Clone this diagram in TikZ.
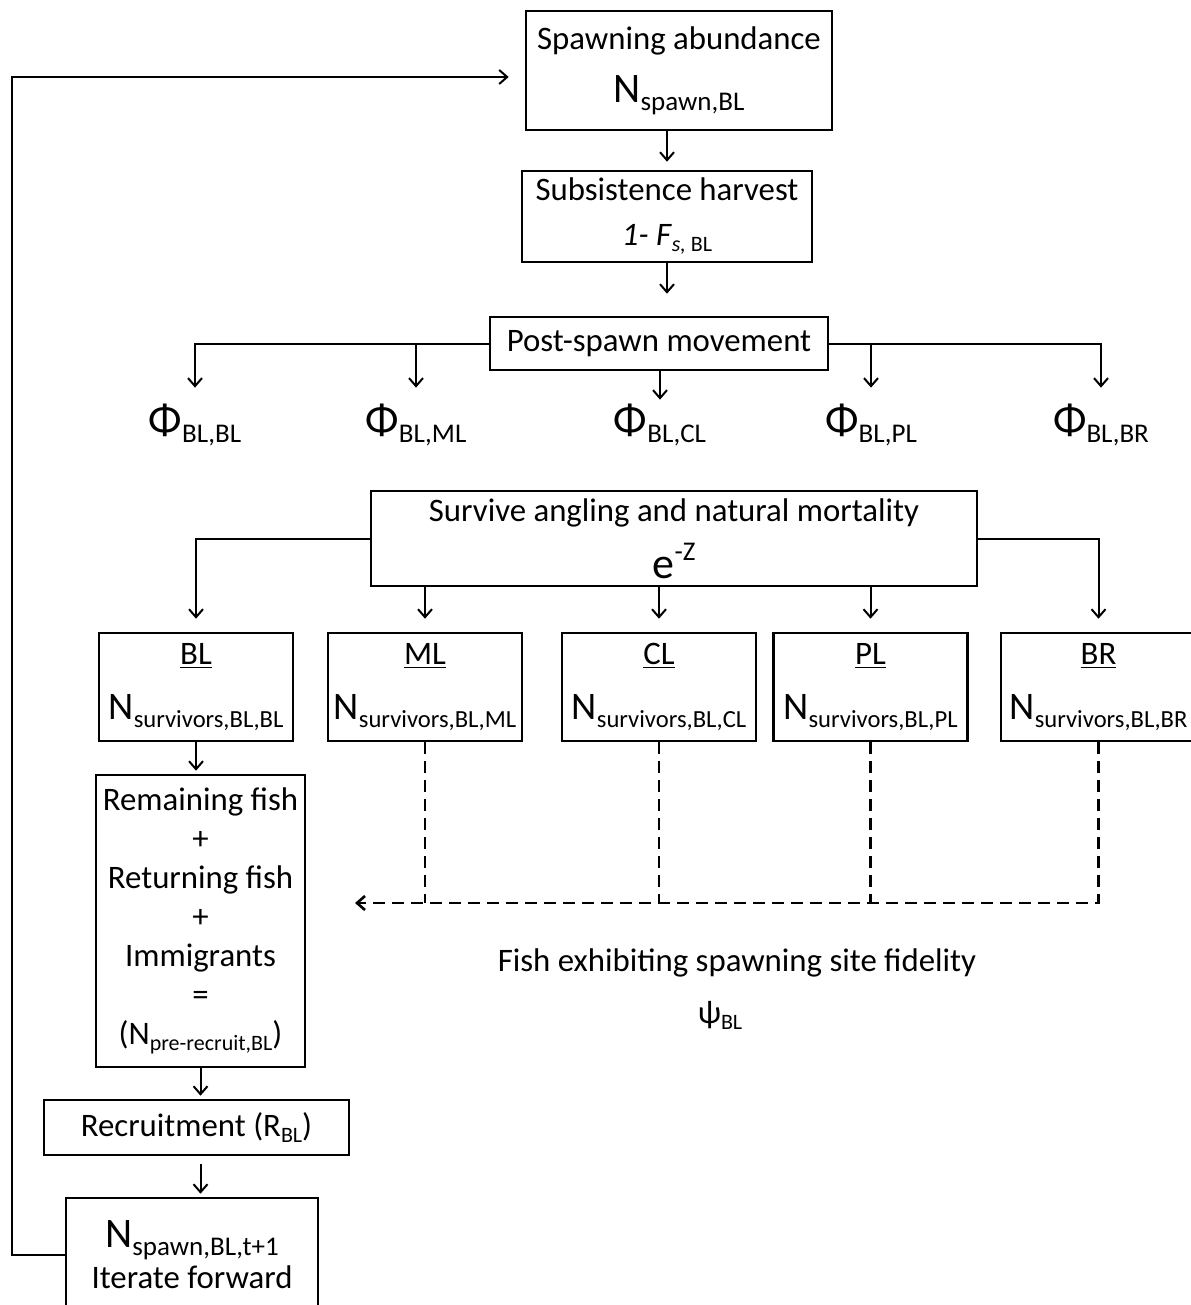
\documentclass[tikz,border=0pt]{standalone}
\usepackage{fontspec}
\setmainfont{Carlito}
\usetikzlibrary{arrows.meta}
\newcommand{\bigN}[1]{{\fontsize{21}{24}\selectfont N}\raisebox{-4pt}{\fontsize{13.5}{15}\selectfont #1}}
\newcommand{\siteN}[1]{{\fontsize{19.5}{22}\selectfont N}\raisebox{-4pt}{\fontsize{12.3}{14}\selectfont #1}}
\newcommand{\phisub}[1]{{\fontsize{22}{24}\selectfont Φ}\raisebox{-4pt}{\fontsize{13.5}{15}\selectfont #1}}
\newcommand{\lowsub}[1]{\raisebox{-3pt}{\fontsize{11}{12}\selectfont #1}}

\begin{document}
\begin{tikzpicture}[x=0.5pt,y=-0.5pt,
  box/.style={draw,line width=1.3pt,align=center,inner sep=0pt,font=\fontsize{16.4}{19.5}\selectfont},
  site/.style={box,minimum width=97pt,minimum height=54pt},
  lbl/.style={align=center,inner sep=1pt,font=\fontsize{16.4}{19.5}\selectfont},
  arr/.style={->,line width=1pt},
  dsh/.style={line width=1.3pt,dash pattern=on 6pt off 3.5pt},
  >={Straight Barb[length=4pt,width=7pt]}]
  \useasboundingbox (0,0) rectangle (1190,1305);
  % main column
  \node[box,minimum width=153pt,minimum height=59.5pt] (spawn) at (679,70.5) {Spawning abundance\\[7pt]\bigN{spawn,BL}};
  \node[box,minimum width=145pt,minimum height=45.5pt] (harv) at (667,216.5) {Subsistence harvest\\[3pt]\textit{1- F}\lowsub{\textit{s,} BL}};
  \node[box,minimum width=169pt,minimum height=26.5pt] (post) at (659,343.5) {Post-spawn movement};
  \node[lbl] (pBL) at (195,425) {\phisub{BL,BL}};
  \node[lbl] (pML) at (416,425) {\phisub{BL,ML}};
  \node[lbl] (pCL) at (660,425) {\phisub{BL,CL}};
  \node[lbl] (pPL) at (871,425) {\phisub{BL,PL}};
  \node[lbl] (pBR) at (1101,425) {\phisub{BL,BR}};
  \node[box,minimum width=303pt,minimum height=47.5pt] (surv) at (674,538.5) {Survive angling and natural mortality\\[7pt]{\fontsize{22}{24}\selectfont e}\raisebox{9pt}{\fontsize{13.5}{15}\selectfont -Z}};
  % sites
  \node[site] (sBL) at (196,687) {\underline{BL}\\[8pt]\siteN{survivors,BL,BL}};
  \node[site] (sML) at (425,687) {\underline{ML}\\[8pt]\siteN{survivors,BL,ML}};
  \node[site] (sCL) at (659,687) {\underline{CL}\\[8pt]\siteN{survivors,BL,CL}};
  \node[site] (sPL) at (870.5,687) {\underline{PL}\\[8pt]\siteN{survivors,BL,PL}};
  \node[site,minimum width=97.5pt] (sBR) at (1098.5,687) {\underline{BR}\\[8pt]\siteN{survivors,BL,BR}};
  % BL column
  \node[box,minimum width=104.5pt,minimum height=146pt] (rem) at (200.5,921) {Remaining fish\\+\\Returning fish\\+\\Immigrants\\=\\(N\lowsub{pre-recruit,BL})};
  \node[box,minimum width=152.5pt,minimum height=27.5pt] (rec) at (196.5,1127.5) {Recruitment (R\lowsub{BL})};
  \node[box,minimum width=126pt,minimum height=57pt] (iter) at (192,1255) {\bigN{spawn,BL,t+1}\\[1pt]Iterate forward};
  \node[lbl] (fid) at (737,963) {Fish exhibiting spawning site fidelity};
  \node[lbl] (psi) at (720,1015) {ψ\lowsub{BL}};
  \coordinate (loop) at (12,77);
  \coordinate (dash) at (355,903);
  % connectors
  \draw[arr,shorten >=4pt] (spawn.south -| harv.north) -- (harv.north);
  \draw[arr,shorten >=11pt] (harv.south) -- (harv.south |- post.north);
  \draw[arr,shorten >=7pt] (post.west) -| (pBL.north);
  \draw[arr,shorten >=7pt] (post.west -| pML.north) -- (pML.north);
  \draw[arr,shorten >=1pt] (post.south -| pCL.north) -- (pCL.north);
  \draw[arr,shorten >=7pt] (post.east) -| (pBR.north);
  \draw[arr,shorten >=7pt] (post.east -| pPL.north) -- (pPL.north);
  \draw[arr,shorten >=6.5pt] (surv.west) -| (sBL.north);
  \draw[arr,shorten >=6.5pt] (surv.east) -| (sBR.north);
  \draw[arr,shorten >=6.5pt] (surv.south -| sML.north) -- (sML.north);
  \draw[arr,shorten >=6.5pt] (surv.south -| sCL.north) -- (sCL.north);
  \draw[arr,shorten >=6.5pt] (surv.south -| sPL.north) -- (sPL.north);
  \draw[arr,shorten >=1.5pt] (sBL.south) -- (sBL.south |- rem.north);
  \draw[arr,shorten >=1.5pt] (rem.south) -- (rem.south |- rec.north);
  \draw[arr,shorten <=4pt,shorten >=1.5pt] (rec.south -| rem.south) -- (rem.south |- iter.north);
  \draw[arr,shorten >=8pt] (iter.west) -| (loop) -- (loop -| spawn.west);
  \draw[dsh] (sML.south) -- (sML.south |- dash);
  \draw[dsh] (sCL.south) -- (sCL.south |- dash);
  \draw[dsh] (sPL.south) -- (sPL.south |- dash);
  \draw[dsh,->] (sBR.south) |- (dash);
\end{tikzpicture}
\end{document}
